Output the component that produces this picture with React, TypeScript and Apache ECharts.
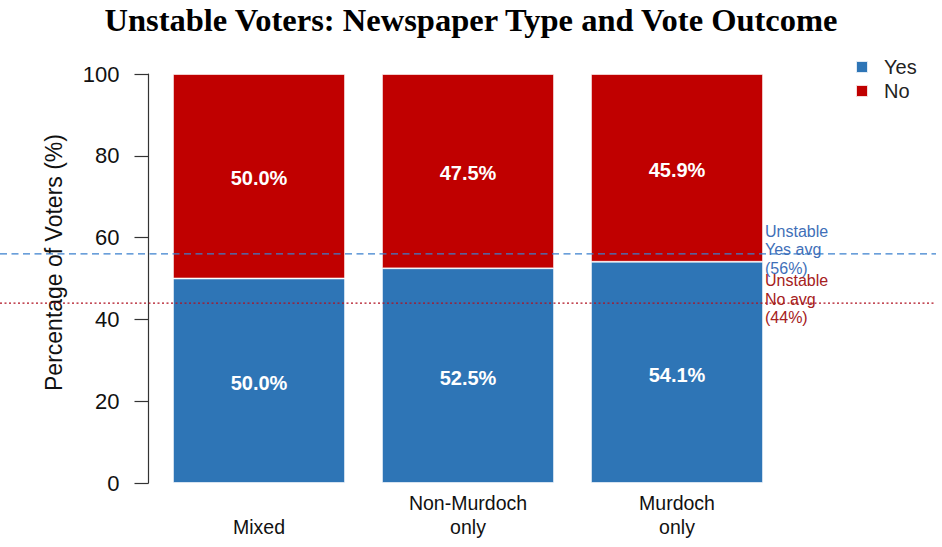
import React, { useEffect, useRef } from "react";
import * as echarts from "echarts";

const categories = ["\nMixed", "Non-Murdoch\nonly", "Murdoch\nonly"];
const yesValues = [50.0, 52.5, 54.1];
const noValues = [50.0, 47.5, 45.9];
const yesAvg = 56;
const noAvg = 44;
const yTicks = [0, 20, 40, 60, 80, 100];

const BLUE = "#2E75B6";
const RED = "#C00000";

export default function App() {
  const ref = useRef<HTMLDivElement>(null);
  useEffect(() => {
    if (!ref.current) return;
    const chart = echarts.init(ref.current, null, { renderer: "svg" });
    const labelFmt = (p: any) => Number(p.value).toFixed(1) + "%";
    const sans = "'Liberation Sans', Arial, sans-serif";
    chart.setOption({
      animation: false,
      backgroundColor: "#ffffff",
      title: {
        text: "Unstable Voters: Newspaper Type and Vote Outcome",
        left: "center",
        top: -2,
        textStyle: {
          fontFamily: "'Liberation Serif', serif",
          fontWeight: "bold",
          fontSize: 32.5,
          color: "#000",
        },
      },
      legend: {
        orient: "vertical",
        left: 850,
        top: 52,
        itemWidth: 12,
        itemHeight: 12,
        itemGap: 4,
        icon: "rect",
        data: ["Yes", "No"],
        textStyle: {
          fontFamily: sans,
          fontSize: 20,
          color: "#222",
          padding: [0, 0, 0, 11],
        },
      },
      grid: { left: 154.5, right: 160.5, top: 74, bottom: 64, containLabel: false },
      xAxis: {
        type: "category",
        data: categories,
        axisLine: { show: false },
        axisTick: { show: false },
        axisLabel: {
          margin: 8,
          fontFamily: sans,
          fontSize: 19.5,
          lineHeight: 24,
          color: "#111",
          verticalAlign: "top",
        },
      },
      yAxis: {
        type: "value",
        min: 0,
        max: 100,
        interval: 20,
        offset: 6,
        name: "Percentage of Voters (%)",
        nameLocation: "middle",
        nameGap: 83,
        nameTextStyle: {
          fontFamily: sans,
          fontSize: 23,
          color: "#111",
          padding: [0, 0, 0, 32],
        },
        axisLine: { show: true, lineStyle: { color: "#333", width: 1.2 } },
        axisTick: { show: true, length: 14, lineStyle: { color: "#333", width: 1.2 } },
        splitLine: { show: false },
        axisLabel: {
          margin: 29,
          fontFamily: sans,
          fontSize: 22,
          color: "#111",
          formatter: (v: number) => (yTicks.includes(v) ? String(v) : ""),
        },
      },
      series: [
        {
          name: "Yes",
          type: "bar",
          stack: "total",
          barCategoryGap: "17.7%",
          data: yesValues,
          itemStyle: { color: BLUE, borderColor: "rgba(255,255,255,0.85)", borderWidth: 0.8 },
          label: {
            show: true,
            position: "inside",
            offset: [0, 2.5],
            color: "#fff",
            fontWeight: "bold",
            fontSize: 20,
            fontFamily: sans,
            formatter: labelFmt,
          },
        },
        {
          name: "No",
          type: "bar",
          stack: "total",
          barCategoryGap: "17.7%",
          data: noValues,
          itemStyle: { color: RED, borderColor: "rgba(255,255,255,0.85)", borderWidth: 0.8 },
          label: {
            show: true,
            position: "inside",
            offset: [0, 2],
            color: "#fff",
            fontWeight: "bold",
            fontSize: 20,
            fontFamily: sans,
            formatter: labelFmt,
          },
        },
      ],
    });

    const yYes = chart.convertToPixel({ yAxisIndex: 0 }, yesAvg) as number;
    const yNo = chart.convertToPixel({ yAxisIndex: 0 }, noAvg) as number;
    chart.setOption({
      graphic: [
        {
          type: "line",
          shape: { x1: 0, y1: yYes, x2: 936, y2: yYes },
          style: { stroke: "#3A80CE", lineWidth: 1.3, lineDash: [7, 4.5] },
          z: 10,
        },
        {
          type: "line",
          shape: { x1: 0, y1: yNo, x2: 936, y2: yNo },
          style: { stroke: "#B01020", lineWidth: 1.3, lineDash: [2, 2.5] },
          z: 10,
        },
        {
          type: "text",
          x: 765,
          y: yYes - 4,
          style: {
            text: "Unstable\nYes avg\n(56%)",
            fill: "#3F6FB8",
            font: `16px ${sans}`,
            lineHeight: 18.5,
            verticalAlign: "middle",
            align: "left",
          },
          z: 11,
        },
        {
          type: "text",
          x: 765,
          y: yNo - 4,
          style: {
            text: "Unstable\nNo avg\n(44%)",
            fill: "#A52020",
            font: `16px ${sans}`,
            lineHeight: 18.5,
            verticalAlign: "middle",
            align: "left",
          },
          z: 11,
        },
      ],
    });
    return () => chart.dispose();
  }, []);
  return (
    <div
      ref={ref}
      style={{ position: "fixed", left: 0, top: 0, width: 942, height: 547 }}
    />
  );
}
